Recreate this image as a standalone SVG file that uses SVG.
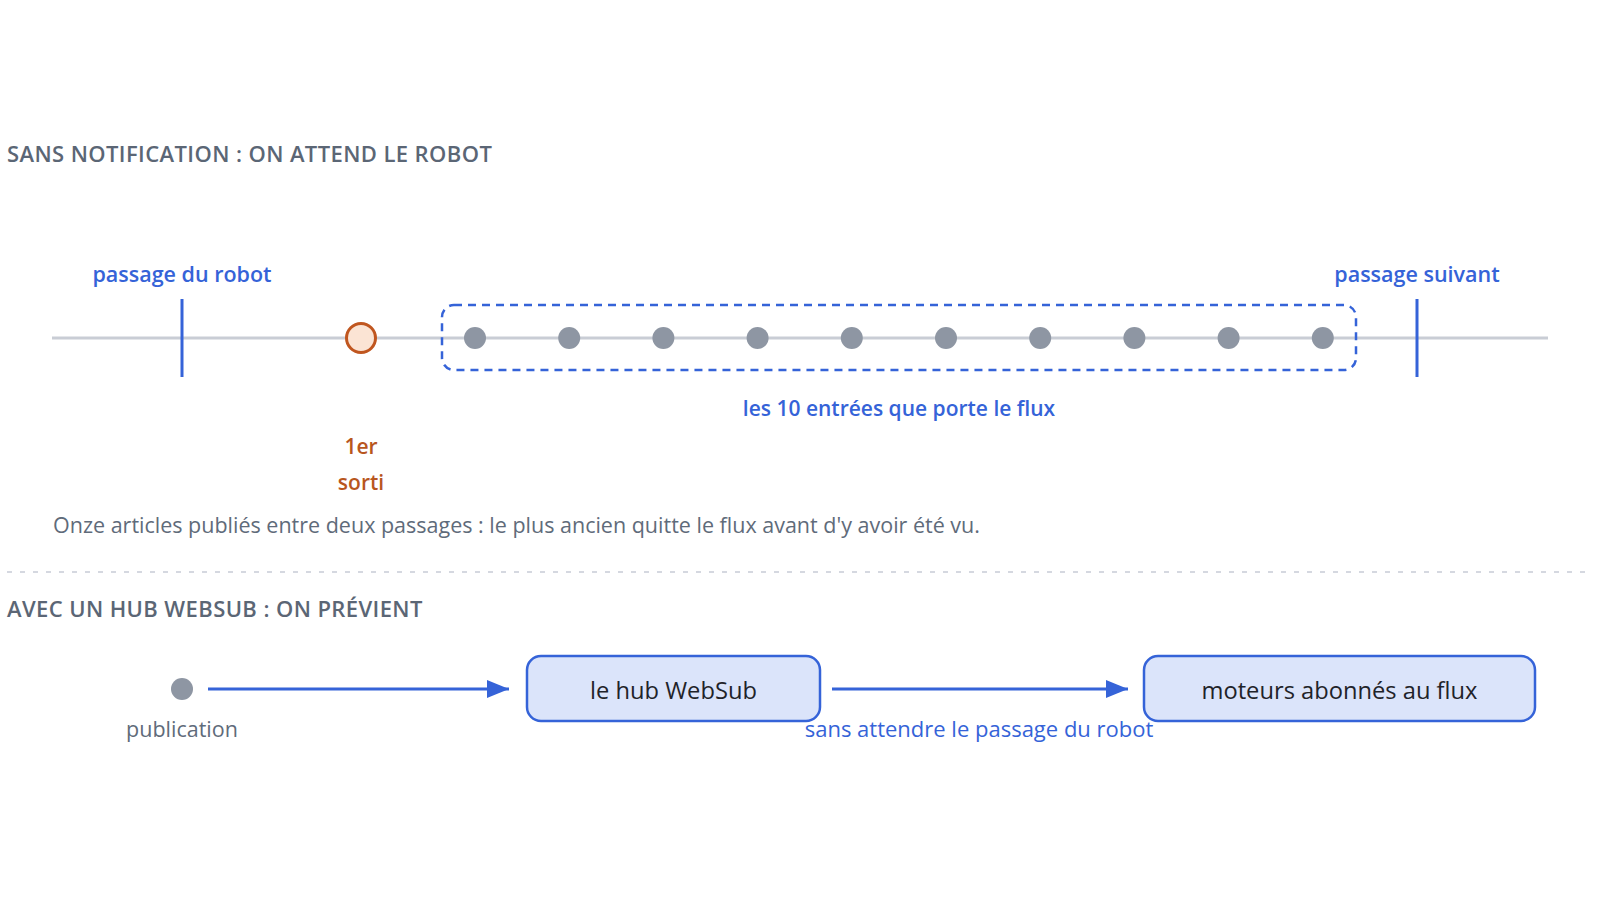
<svg xmlns="http://www.w3.org/2000/svg" width="1600" height="900" viewBox="0 0 1600 900">
  <style>
    text { font-family: "Open Sans", "Noto Sans", "Liberation Sans", sans-serif; }
    .title { font-size: 22px; font-weight: 600; fill: #5b6675; letter-spacing: 0.4px; }
    .blue { font-size: 21px; font-weight: 600; fill: #3563d8; }
    .tl { font-size: 21.5px; }
    .orange { font-size: 21px; font-weight: 600; fill: #b8561e; }
    .grey { font-size: 21.5px; fill: #5f6b7a; }
    .node { font-size: 23.7px; font-weight: 500; fill: #1f2329; }
    .dot { fill: #8e96a3; }
    .tick { stroke: #3563d8; stroke-width: 3; }
    .box { fill: #dbe4fa; stroke: #3563d8; stroke-width: 2.5; }
    .arrow { stroke: #3563d8; stroke-width: 3; fill: none; }
  </style>
  <defs>
    <marker id="ah" viewBox="0 0 22 18" refX="22" refY="9" markerWidth="22" markerHeight="18" markerUnits="userSpaceOnUse" orient="auto">
      <path d="M0,0 L22,9 L0,18 z" fill="#3563d8"/>
    </marker>
  </defs>
  <rect width="1600" height="900" fill="#ffffff"/>

  <g id="section1">
    <text class="title" x="7" y="162">SANS NOTIFICATION : ON ATTEND LE ROBOT</text>
    <line id="timeline" x1="52" y1="338" x2="1548" y2="338" stroke="#c9cdd5" stroke-width="3"/>
  </g>

  <g id="passage-robot">
    <line class="tick" x1="182" y1="299" x2="182" y2="377"/>
    <text class="blue tl" x="182" y="282" text-anchor="middle">passage du robot</text>
  </g>

  <g id="passage-suivant">
    <line class="tick" x1="1417" y1="299" x2="1417" y2="377"/>
    <text class="blue tl" x="1417" y="282" text-anchor="middle">passage suivant</text>
  </g>

  <g id="premier-sorti">
    <circle cx="361" cy="338" r="14.5" fill="#fbe4d4" stroke="#c0561f" stroke-width="3"/>
    <text class="orange" x="361" y="454" text-anchor="middle">1er</text>
    <text class="orange" x="361" y="490" text-anchor="middle">sorti</text>
  </g>

  <g id="flux-entrees">
    <rect x="442" y="305" width="914" height="65" rx="12" fill="none" stroke="#3563d8" stroke-width="2.5" stroke-dasharray="8 6"/>
    <circle class="dot" cx="475" cy="338" r="11"/>
    <circle class="dot" cx="569.2" cy="338" r="11"/>
    <circle class="dot" cx="663.4" cy="338" r="11"/>
    <circle class="dot" cx="757.6" cy="338" r="11"/>
    <circle class="dot" cx="851.8" cy="338" r="11"/>
    <circle class="dot" cx="946" cy="338" r="11"/>
    <circle class="dot" cx="1040.2" cy="338" r="11"/>
    <circle class="dot" cx="1134.4" cy="338" r="11"/>
    <circle class="dot" cx="1228.6" cy="338" r="11"/>
    <circle class="dot" cx="1322.8" cy="338" r="11"/>
    <text class="blue" x="899" y="416" text-anchor="middle">les 10 entrées que porte le flux</text>
  </g>

  <g id="caption">
    <text class="grey" x="53" y="533">Onze articles publiés entre deux passages : le plus ancien quitte le flux avant d'y avoir été vu.</text>
  </g>

  <line id="separator" x1="7" y1="572" x2="1585" y2="572" stroke="#d5d8e0" stroke-width="2" stroke-dasharray="5 8"/>

  <g id="section2">
    <text class="title" x="7" y="617">AVEC UN HUB WEBSUB : ON PRÉVIENT</text>
  </g>

  <g id="publication">
    <circle class="dot" cx="182" cy="689" r="11"/>
    <text class="grey" x="182" y="737" text-anchor="middle">publication</text>
  </g>

  <g id="hub">
    <rect class="box" x="527" y="656" width="293" height="65" rx="14"/>
    <text class="node" x="673.5" y="699" text-anchor="middle">le hub WebSub</text>
  </g>

  <g id="moteurs">
    <rect class="box" x="1144" y="656" width="391" height="65" rx="14"/>
    <text class="node" x="1339.5" y="699" text-anchor="middle">moteurs abonnés au flux</text>
  </g>

  <g id="connectors">
    <line class="arrow" x1="208" y1="689" x2="509" y2="689" marker-end="url(#ah)"/>
    <line class="arrow" x1="832" y1="689" x2="1128" y2="689" marker-end="url(#ah)"/>
    <text class="blue" x="979" y="737" text-anchor="middle" style="font-size:22px;font-weight:500">sans attendre le passage du robot</text>
  </g>
</svg>
